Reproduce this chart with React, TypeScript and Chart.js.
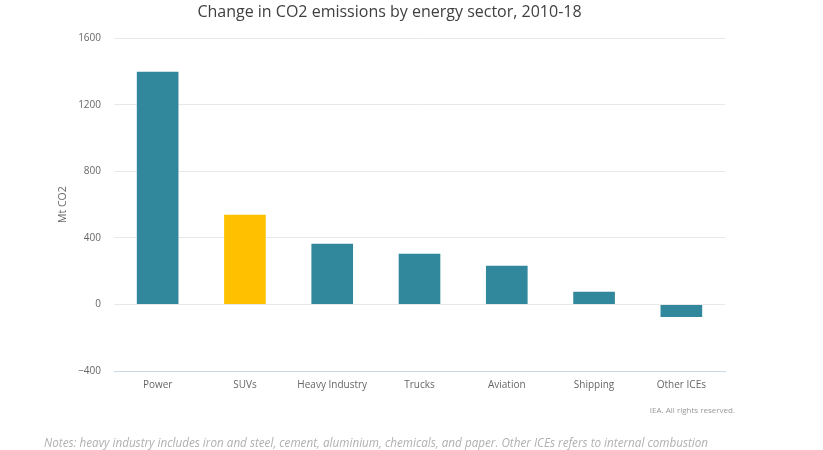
import { useEffect, useRef } from "react";
import Chart from "chart.js/auto";
import type { ChartConfiguration } from "chart.js";

const SECTORS = ["Power", "SUVs", "Heavy Industry", "Trucks", "Aviation", "Shipping", "Other ICEs"];
const CHANGE_MT = [1405, 545, 370, 310, 238, 82, -82];
const BAR_COLORS = ["#31879b", "#ffc000", "#31879b", "#31879b", "#31879b", "#31879b", "#31879b"];
const Y_MIN = -400;
const Y_MAX = 1600;
const Y_STEP = 400;

const TITLE = "Change in CO2 emissions by energy sector, 2010-18";
const Y_TITLE = "Mt CO2";
const CREDIT = "IEA. All rights reserved.";
const NOTES =
  "Notes: heavy industry includes iron and steel, cement, aluminium, chemicals, and paper. Other ICEs refers to internal combustion";

const FONT = "'Open Sans', 'Noto Sans', sans-serif";

export default function App() {
  const canvasRef = useRef<HTMLCanvasElement | null>(null);

  useEffect(() => {
    document.body.style.margin = "0";
    if (!canvasRef.current) return;

    const config: ChartConfiguration<"bar"> = {
      type: "bar",
      data: {
        labels: SECTORS,
        datasets: [
          {
            label: "Change",
            data: CHANGE_MT,
            backgroundColor: BAR_COLORS,
            borderColor: "rgba(255,255,255,0.35)",
            borderWidth: 1,
            barPercentage: 0.5,
            categoryPercentage: 1,
          },
        ],
      },
      options: {
        animation: false,
        responsive: true,
        maintainAspectRatio: false,
        layout: { padding: { left: 0, right: 44, top: 0, bottom: 0 } },
        plugins: {
          legend: { display: false },
          tooltip: { enabled: false },
          title: {
            display: true,
            text: TITLE,
            color: "#404040",
            font: { family: FONT, size: 16, weight: "normal" },
            padding: { top: 3, bottom: 16 },
          },
        },
        scales: {
          x: {
            grid: { display: false, drawTicks: false },
            border: { display: true, color: "#ccd6e2", width: 1 },
            ticks: {
              color: "#666666",
              font: { family: FONT, size: 10 },
              padding: 8,
              maxRotation: 0,
              autoSkip: false,
            },
            afterFit: (scale) => {
              scale.height = 79;
            },
          },
          y: {
            min: Y_MIN,
            max: Y_MAX,
            grid: { color: "#e8e8e8", drawTicks: false },
            border: { display: false },
            ticks: {
              stepSize: Y_STEP,
              color: "#666666",
              font: { family: FONT, size: 10 },
              padding: 13,
              callback: (v) => String(v).replace("-", "\u2212"),
            },
            title: {
              display: true,
              text: Y_TITLE,
              color: "#666666",
              font: { family: FONT, size: 10.5 },
              padding: { top: 57, bottom: 0 },
            },
            afterFit: (scale) => {
              scale.width = 114;
            },
          },
          spacer: {
            type: "linear",
            position: "right",
            display: true,
            grid: { display: false, drawTicks: false },
            border: { display: false },
            ticks: { display: false },
            afterFit: (scale) => {
              scale.width = 54;
            },
          },
        },
      },
    };

    const chart = new Chart(canvasRef.current, config);
    return () => {
      chart.destroy();
    };
  }, []);

  return (
    <div style={{ position: "relative", width: 823, height: 450, background: "#ffffff", overflow: "hidden" }}>
      <canvas ref={canvasRef} />
      <div
        style={{
          position: "absolute",
          right: 88,
          top: 404,
          fontFamily: FONT,
          fontSize: 8,
          color: "#999999",
          whiteSpace: "nowrap",
        }}
      >
        {CREDIT}
      </div>
      <div
        style={{
          position: "absolute",
          left: 44,
          top: 434,
          fontFamily: FONT,
          fontSize: 11.7,
          fontStyle: "italic",
          color: "#b0b0b0",
          whiteSpace: "nowrap",
        }}
      >
        {NOTES}
      </div>
    </div>
  );
}
